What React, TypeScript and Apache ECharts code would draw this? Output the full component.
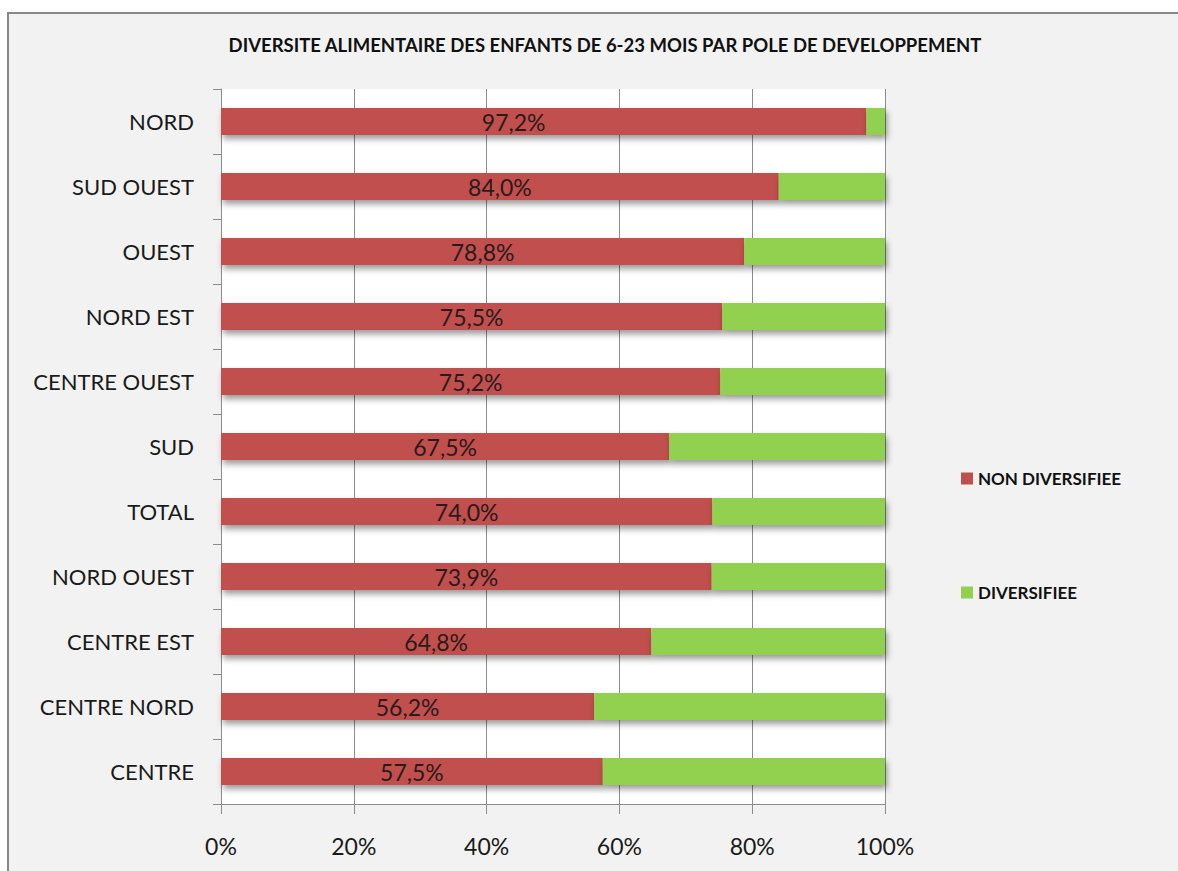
import React, { useEffect, useRef } from "react";
import * as echarts from "echarts";

const categories = [
  "NORD",
  "SUD OUEST",
  "OUEST",
  "NORD EST",
  "CENTRE OUEST",
  "SUD",
  "TOTAL",
  "NORD OUEST",
  "CENTRE EST",
  "CENTRE NORD",
  "CENTRE",
];
const nonDiversifiee = [97.2, 84.0, 78.8, 75.5, 75.2, 67.5, 74.0, 73.9, 64.8, 56.2, 57.5];
const diversifiee = [2.8, 16.0, 21.2, 24.5, 24.8, 32.5, 26.0, 26.1, 35.2, 43.8, 42.5];
const xTicks = [0, 20, 40, 60, 80, 100];

const FONT = "Lato, 'Open Sans', sans-serif";

export default function App() {
  const ref = useRef<HTMLDivElement>(null);
  useEffect(() => {
    if (!ref.current) return;
    const chart = echarts.init(ref.current, undefined, { renderer: "svg" });
    const shadow = {
      shadowColor: "rgba(0,0,0,0.4)",
      shadowBlur: 6,
      shadowOffsetX: 2,
      shadowOffsetY: 4,
    };
    chart.setOption({
      animation: false,
      backgroundColor: "#ffffff",
      textStyle: { fontFamily: FONT },
      graphic: [
        {
          type: "rect",
          z: -10,
          silent: true,
          shape: { x: 8, y: 13, width: 1200, height: 900 },
          style: { fill: "#f2f2f2", stroke: "#878787", lineWidth: 2 },
        },
      ],
      title: {
        text: "DIVERSITE ALIMENTAIRE DES ENFANTS DE 6-23 MOIS PAR POLE DE DEVELOPPEMENT",
        left: 600,
        top: 30,
        textAlign: "center",
        textStyle: { fontFamily: FONT, fontSize: 18.5, fontWeight: "bold", color: "#111" },
      },
      legend: {
        orient: "vertical",
        left: 956,
        top: 465,
        itemWidth: 12,
        itemHeight: 12,
        itemGap: 97,
        icon: "rect",
        textStyle: { fontFamily: FONT, fontSize: 17, color: "#111", fontWeight: "bold" },
        data: ["NON DIVERSIFIEE", "DIVERSIFIEE"],
      },
      grid: {
        left: 221,
        top: 89,
        right: 293,
        bottom: 67,
        show: true,
        backgroundColor: "#ffffff",
        borderWidth: 0,
      },
      xAxis: {
        type: "value",
        min: xTicks[0],
        max: xTicks[xTicks.length - 1],
        interval: 20,
        axisLine: { show: true, lineStyle: { color: "#8c8c8c", width: 1 } },
        axisTick: { show: true, length: 10, lineStyle: { color: "#8c8c8c" } },
        splitLine: { show: true, lineStyle: { color: "#8c8c8c", width: 1 } },
        axisLabel: {
          formatter: "{value}%",
          fontFamily: FONT,
          fontSize: 23,
          color: "#1a1a1a",
          margin: 30,
        },
      },
      yAxis: {
        type: "category",
        inverse: true,
        data: categories,
        axisLine: { show: true, lineStyle: { color: "#8c8c8c", width: 1 } },
        axisTick: { show: true, length: 8, lineStyle: { color: "#8c8c8c" } },
        axisLabel: { fontFamily: FONT, fontSize: 22, color: "#1a1a1a", margin: 27 },
      },
      series: [
        {
          name: "NON DIVERSIFIEE",
          type: "bar",
          stack: "total",
          barWidth: 27,
          data: nonDiversifiee.map((v, i) =>
            i === 0 ? { value: v, label: { offset: [-30, 0] } } : v
          ),
          itemStyle: { color: "#c0504d", ...shadow },
          label: {
            show: true,
            position: "inside",
            formatter: (p: any) => Number(p.value).toFixed(1).replace(".", ",") + "%",
            fontFamily: FONT,
            fontSize: 23,
            color: "#2a1a1a",
          },
        },
        {
          name: "DIVERSIFIEE",
          type: "bar",
          stack: "total",
          barWidth: 27,
          data: diversifiee,
          itemStyle: { color: "#92d050", ...shadow },
        },
      ],
    });
    return () => chart.dispose();
  }, []);
  return (
    <div style={{ position: "fixed", left: 0, top: 0, width: 1178, height: 871, overflow: "hidden" }}>
      <div ref={ref} style={{ width: 1178, height: 871 }} />
    </div>
  );
}
